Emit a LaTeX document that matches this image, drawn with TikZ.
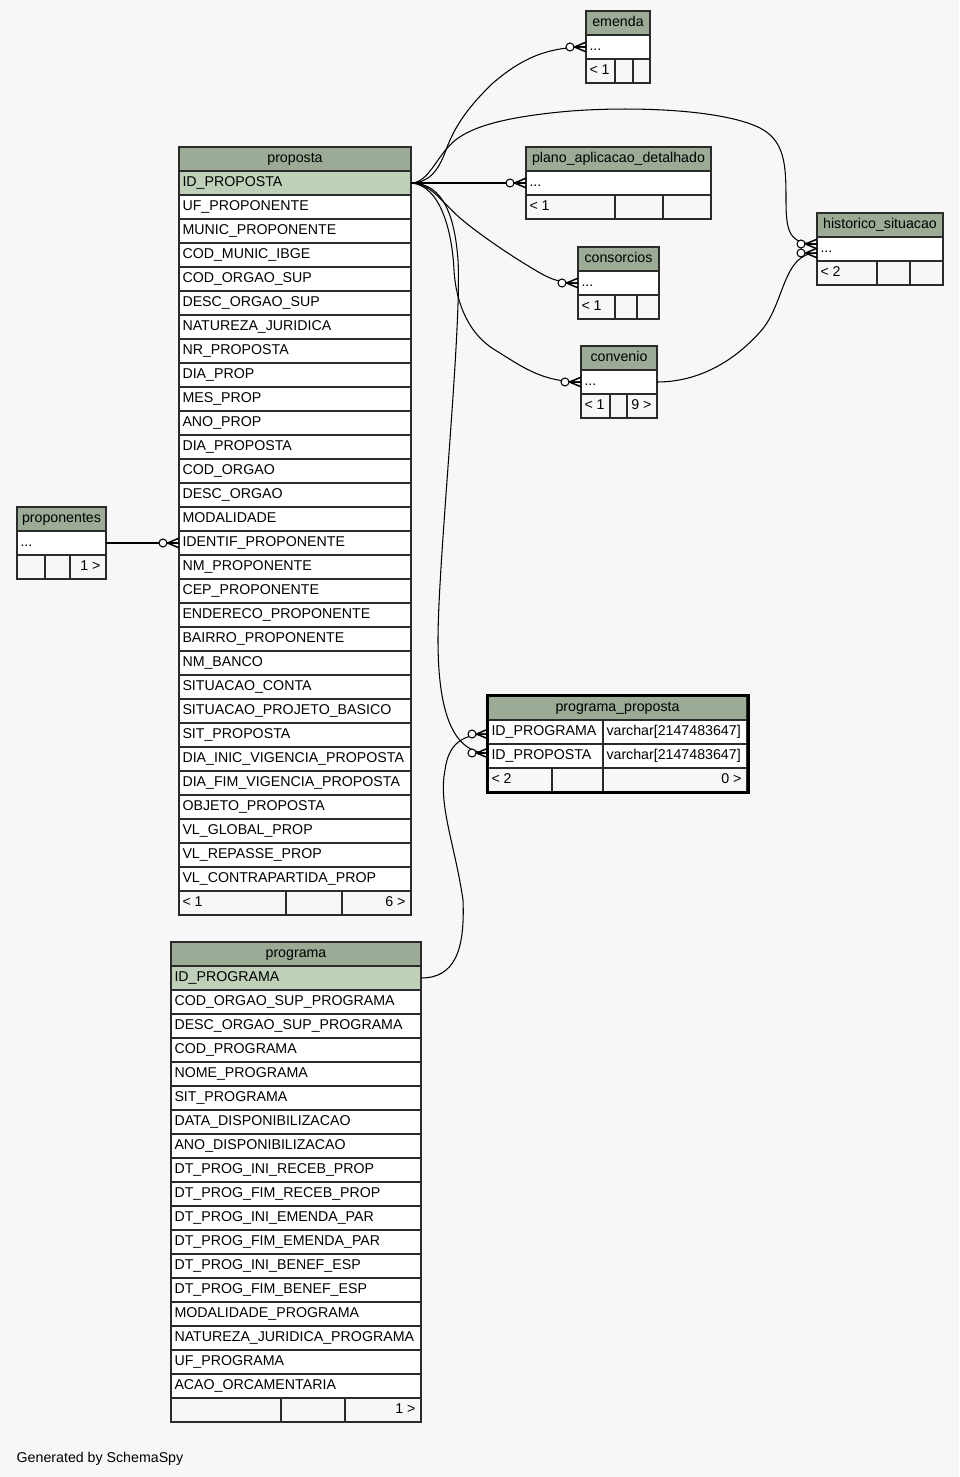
\documentclass[tikz,border=0pt]{standalone}
\usepackage{fontspec}
\setmainfont{Liberation Sans}
\usetikzlibrary{calc}

\definecolor{bggray}{HTML}{F7F7F7}
\definecolor{hdrgreen}{HTML}{9BAB96}
\definecolor{keygreen}{HTML}{BED1B8}
\definecolor{rulegray}{HTML}{2B2B2B}

% fixed-width cell contents: left, right and centred text
\newcommand\lcell[2]{\hbox to #1pt{\hskip3.5pt #2\hfil}}
\newcommand\rcell[2]{\hbox to #1pt{\hfil #2\hskip5.5pt}}
\newcommand\ccell[2]{\hbox to #1pt{\hfil #2\hfil}}

\begin{document}
\begin{tikzpicture}[x=1pt, y=-1pt, font=\fontsize{14.2}{17}\selectfont,
  cell/.style={draw=rulegray, line width=1.5pt, inner sep=0pt, outer sep=0pt,
    minimum height=24pt, text height=11pt, text depth=4pt, anchor=north west},
  hdrcell/.style={cell, fill=hdrgreen},
  keycell/.style={cell, fill=keygreen},
  fldcell/.style={cell, fill=white},
  footcell/.style={cell},
  conn/.style={line width=1.05pt, draw=black},
  crow/.style={line width=1.5pt, draw=black},
  zeromany/.pic={
    \draw[crow] (-11.5,0) -- (0,-4.8) (-11.5,0) -- (0,0) (-11.5,0) -- (0,4.8);
    \draw[conn, fill=white] (-16,0) circle (4pt);
  }]

\useasboundingbox (0,0) rectangle (959,1477);
\fill[bggray] (0,0) rectangle (959,1477);

% ---- emenda
\node[hdrcell] (emenda-h) at (586,11) {\ccell{64}{emenda}};
\node[fldcell] (emenda-r) at (586,35) {\lcell{64}{...}};
\node[footcell] (emenda-f1) at (586,59) {\lcell{29}{< 1}};
\node[footcell] (emenda-f2) at (615,59) {\lcell{18}{}};
\node[footcell] (emenda-f3) at (633,59) {\lcell{17}{}};

% ---- plano_aplicacao_detalhado
\node[hdrcell] (plano-h) at (526,147) {\ccell{185}{plano\_aplicacao\_detalhado}};
\node[fldcell] (plano-r) at (526,171) {\lcell{185}{...}};
\node[footcell] (plano-f1) at (526,195) {\lcell{89}{< 1}};
\node[footcell] (plano-f2) at (615,195) {\lcell{48}{}};
\node[footcell] (plano-f3) at (663,195) {\lcell{48}{}};

% ---- consorcios
\node[hdrcell] (cons-h) at (578,247) {\ccell{81}{consorcios}};
\node[fldcell] (cons-r) at (578,271) {\lcell{81}{...}};
\node[footcell] (cons-f1) at (578,295) {\lcell{37}{< 1}};
\node[footcell] (cons-f2) at (615,295) {\lcell{22}{}};
\node[footcell] (cons-f3) at (637,295) {\lcell{22}{}};

% ---- convenio
\node[hdrcell] (conv-h) at (581,346) {\ccell{76}{convenio}};
\node[fldcell] (conv-r) at (581,370) {\lcell{76}{...}};
\node[footcell] (conv-f1) at (581,394) {\lcell{29}{< 1}};
\node[footcell] (conv-f2) at (610,394) {\lcell{17}{}};
\node[footcell] (conv-f3) at (627,394) {\rcell{30}{9 >}};

% ---- historico_situacao
\node[hdrcell] (hist-h) at (817,213) {\ccell{126}{historico\_situacao}};
\node[fldcell] (hist-r) at (817,237) {\lcell{126}{...}};
\node[footcell] (hist-f1) at (817,261) {\lcell{60}{< 2}};
\node[footcell] (hist-f2) at (877,261) {\lcell{33}{}};
\node[footcell] (hist-f3) at (910,261) {\lcell{33}{}};

% ---- proponentes
\node[hdrcell] (pron-h) at (17,507) {\ccell{89}{proponentes}};
\node[fldcell] (pron-r) at (17,531) {\lcell{89}{...}};
\node[footcell] (pron-f1) at (17,555) {\lcell{28}{}};
\node[footcell] (pron-f2) at (45,555) {\lcell{25}{}};
\node[footcell] (pron-f3) at (70,555) {\rcell{36}{1 >}};

% ---- proposta
\node[hdrcell] (proposta-h) at (179,147) {\ccell{232}{proposta}};
\node[keycell] (proposta-k) at (179,171) {\lcell{232}{ID\_PROPOSTA}};
\foreach \t [count=\i] in {UF\_PROPONENTE, MUNIC\_PROPONENTE, COD\_MUNIC\_IBGE,
    COD\_ORGAO\_SUP, DESC\_ORGAO\_SUP, NATUREZA\_JURIDICA, NR\_PROPOSTA,
    DIA\_PROP, MES\_PROP, ANO\_PROP, DIA\_PROPOSTA, COD\_ORGAO, DESC\_ORGAO,
    MODALIDADE, IDENTIF\_PROPONENTE, NM\_PROPONENTE, CEP\_PROPONENTE,
    ENDERECO\_PROPONENTE, BAIRRO\_PROPONENTE, NM\_BANCO, SITUACAO\_CONTA,
    SITUACAO\_PROJETO\_BASICO, SIT\_PROPOSTA, DIA\_INIC\_VIGENCIA\_PROPOSTA,
    DIA\_FIM\_VIGENCIA\_PROPOSTA, OBJETO\_PROPOSTA, VL\_GLOBAL\_PROP,
    VL\_REPASSE\_PROP, VL\_CONTRAPARTIDA\_PROP}
  \node[fldcell] (proposta-\i) at (179,{171+24*\i}) {\lcell{232}{\t}};
\node[footcell] (proposta-f1) at (179,891) {\lcell{107}{< 1}};
\node[footcell] (proposta-f2) at (286,891) {\lcell{56}{}};
\node[footcell] (proposta-f3) at (342,891) {\rcell{69}{6 >}};

% ---- programa
\node[hdrcell] (programa-h) at (171,942) {\ccell{250}{programa}};
\node[keycell] (programa-k) at (171,966) {\lcell{250}{ID\_PROGRAMA}};
\foreach \t [count=\i] in {COD\_ORGAO\_SUP\_PROGRAMA, DESC\_ORGAO\_SUP\_PROGRAMA,
    COD\_PROGRAMA, NOME\_PROGRAMA, SIT\_PROGRAMA, DATA\_DISPONIBILIZACAO,
    ANO\_DISPONIBILIZACAO, DT\_PROG\_INI\_RECEB\_PROP, DT\_PROG\_FIM\_RECEB\_PROP,
    DT\_PROG\_INI\_EMENDA\_PAR, DT\_PROG\_FIM\_EMENDA\_PAR, DT\_PROG\_INI\_BENEF\_ESP,
    DT\_PROG\_FIM\_BENEF\_ESP, MODALIDADE\_PROGRAMA, NATUREZA\_JURIDICA\_PROGRAMA,
    UF\_PROGRAMA, ACAO\_ORCAMENTARIA}
  \node[fldcell] (programa-\i) at (171,{966+24*\i}) {\lcell{250}{\t}};
\node[footcell] (programa-f1) at (171,1398) {\lcell{110}{}};
\node[footcell] (programa-f2) at (281,1398) {\lcell{64}{}};
\node[footcell] (programa-f3) at (345,1398) {\rcell{76}{1 >}};

% ---- programa_proposta (selected table, heavy frame)
\node[hdrcell] (pp-h) at (488,696) {\ccell{259}{programa\_proposta}};
\node[fldcell] (pp-prog) at (488,720) {\lcell{115}{ID\_PROGRAMA}};
\node[fldcell] (pp-prog-t) at (603,720) {\lcell{144}{varchar[2147483647]}};
\node[fldcell] (pp-prop) at (488,744) {\lcell{115}{ID\_PROPOSTA}};
\node[fldcell] (pp-prop-t) at (603,744) {\lcell{144}{varchar[2147483647]}};
\node[footcell] (pp-f1) at (488,768) {\lcell{64}{< 2}};
\node[footcell] (pp-f2) at (552,768) {\lcell{51}{}};
\node[footcell] (pp-f3) at (603,768) {\rcell{144}{0 >}};
\draw[black, line width=3pt] ([xshift=-0.5pt,yshift=0.5pt]pp-h.north west)
  rectangle ([xshift=1pt,yshift=-0.5pt]pp-f3.south east);

% ---- credit line
\node[anchor=base west, inner sep=0pt] (credit) at (16.5,1462) {Generated by SchemaSpy};

% ---- edge end points that share a row
\coordinate (hist-a) at ([yshift=5pt]hist-r.west);
\coordinate (hist-b) at ([yshift=-4pt]hist-r.west);
\coordinate (pp-a) at ([yshift=-2pt]pp-prog.west);
\coordinate (pp-b) at ([yshift=3pt]pp-prop.west);

% ---- relationships
\draw[conn] (proposta-k.east) .. controls (428,183) and (438,172) .. (446,150)
  .. controls (455,125) and (470,105) .. (493,83)
  .. controls (520,60) and (545,47) .. (emenda-r.west);
\draw[conn] (proposta-k.east) .. controls (428,183) and (436,158) .. (452,143)
  .. controls (468,128) and (500,118) .. (560,112)
  .. controls (620,106) and (720,108) .. (760,128)
  .. controls (785,141) and (786,165) .. (786,200)
  .. controls (786,232) and (789,244) .. (hist-a);
\draw[conn] (proposta-k.east) -- (plano-r.west);
\draw[conn] (proposta-k.east) .. controls (430,183) and (440,200) .. (460,218)
  .. controls (480,235) and (510,255) .. (530,267)
  .. controls (545,276) and (555,283) .. (cons-r.west);
\draw[conn] (proposta-k.east) .. controls (440,185) and (452,230) .. (454,270)
  .. controls (456,305) and (470,335) .. (495,350)
  .. controls (520,365) and (540,382) .. (conv-r.west);
\draw[conn] (conv-r.east) .. controls (700,382) and (735,360) .. (760,332)
  .. controls (785,305) and (782,253) .. (hist-b);
\draw[conn] (proposta-k.east) .. controls (445,183) and (455,220) .. (458,260)
  .. controls (462,330) and (438,560) .. (438,640)
  .. controls (438,705) and (450,753) .. (pp-b);
\draw[conn] (programa-k.east) .. controls (455,978) and (465,950) .. (463,900)
  .. controls (455,845) and (438,805) .. (445,770)
  .. controls (448,748) and (458,734) .. (pp-a);
\draw[conn] (pron-r.east) -- (proposta-15.west);

% ---- zero-or-many ends
\pic at (emenda-r.west) {zeromany};
\pic at (hist-a) {zeromany};
\pic at (hist-b) {zeromany};
\pic at (plano-r.west) {zeromany};
\pic at (cons-r.west) {zeromany};
\pic at (conv-r.west) {zeromany};
\pic at (pp-a) {zeromany};
\pic at (pp-b) {zeromany};
\pic at (proposta-15.west) {zeromany};

\end{tikzpicture}
\end{document}
